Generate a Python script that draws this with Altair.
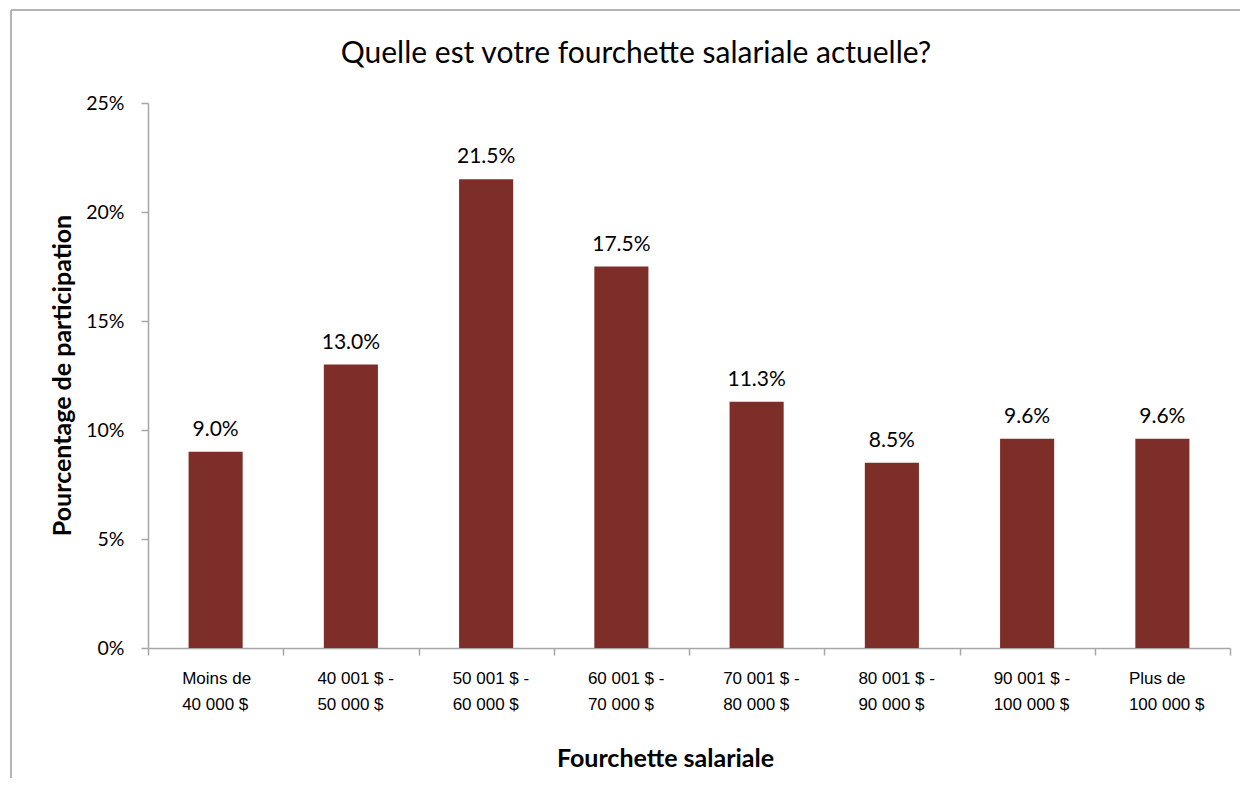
import altair as alt
import pandas as pd

title_text = "Quelle est votre fourchette salariale actuelle?"
categories = [
    "Moins de|40 000 $",
    "40 001 $ -|50 000 $",
    "50 001 $ -|60 000 $",
    "60 001 $ -|70 000 $",
    "70 001 $ -|80 000 $",
    "80 001 $ -|90 000 $",
    "90 001 $ -|100 000 $",
    "Plus de|100 000 $",
]
values = [9.0, 13.0, 21.5, 17.5, 11.3, 8.5, 9.6, 9.6]
labels = [f"{v:.1f}%" for v in values]

df = pd.DataFrame({"cat": categories, "pct": values, "label": labels})

BAR = "#7E2E28"
AXIS_GRAY = "#A6A6A6"

x_enc = alt.X(
    "cat:N",
    sort=categories,
    scale=alt.Scale(paddingInner=0, paddingOuter=0),
    axis=alt.Axis(
        title="Fourchette salariale",
        labelExpr="split(datum.label, '|')",
        labelAngle=0,
        labelAlign="left",
        labelOffset=-34,
        labelFont="Liberation Sans",
        labelFontSize=17,
        labelColor="#000000",
        labelLineHeight=26,
        labelPadding=15,
        labelBaseline="top",
        tickBand="extent",
        tickSize=7,
        tickColor=AXIS_GRAY,
        tickWidth=1.5,
        domainColor=AXIS_GRAY,
        domainWidth=1.5,
        titleFont="Lato",
        titleFontSize=25,
        titleFontWeight="bold",
        titleColor="#000000",
        titleX=517,
        titleY=110,
        titleAlign="center",
        titleBaseline="middle",
    ),
)

y_enc = alt.Y(
    "pct:Q",
    scale=alt.Scale(domain=[0, 25], nice=False),
    axis=alt.Axis(
        title="Pourcentage de participation",
        values=[0, 5, 10, 15, 20, 25],
        labelExpr="datum.value + '%'",
        grid=False,
        labelFont="Lato",
        labelFontSize=19.5,
        labelColor="#000000",
        labelPadding=17,
        tickSize=7,
        tickColor=AXIS_GRAY,
        tickWidth=1.5,
        domainColor=AXIS_GRAY,
        domainWidth=1.5,
        titleFont="Lato",
        titleFontSize=25,
        titleFontWeight="bold",
        titleColor="#000000",
        titleAngle=-90,
        titleX=-86,
        titleY=272,
        titleAlign="center",
        titleBaseline="middle",
    ),
)

base = alt.Chart(df).encode(x=x_enc, y=y_enc)

bars = base.mark_bar(color=BAR, width=alt.RelativeBandSize(0.4))

text = base.mark_text(
    font="Lato", fontSize=21, color="#000000", baseline="bottom", dy=-12
).encode(text="label:N")

border_top = alt.Chart(df).mark_rule(color="#B4B4B4", strokeWidth=1.5).encode(
    x=alt.value(-137), x2=alt.value(1110), y=alt.value(-93)
)
border_left = alt.Chart(df).mark_rule(color="#B4B4B4", strokeWidth=1.5).encode(
    x=alt.value(-137), y=alt.value(-93), y2=alt.value(700)
)

title = alt.Chart(pd.DataFrame({"t": [title_text]})).mark_text(
    font="Lato", fontSize=30, color="#000000", align="center", baseline="alphabetic"
).encode(text="t:N", x=alt.value(488), y=alt.value(-40))

chart = (
    alt.layer(border_top, border_left, bars, text, title)
    .properties(
        width=1082,
        height=545,
        padding={"left": 140, "top": 95, "right": 10, "bottom": 130},
        autosize=alt.AutoSizeParams(type="none"),
    )
    .configure_view(stroke=None)
)

chart.save("out.html", embed_options={"renderer": "svg", "actions": False})
